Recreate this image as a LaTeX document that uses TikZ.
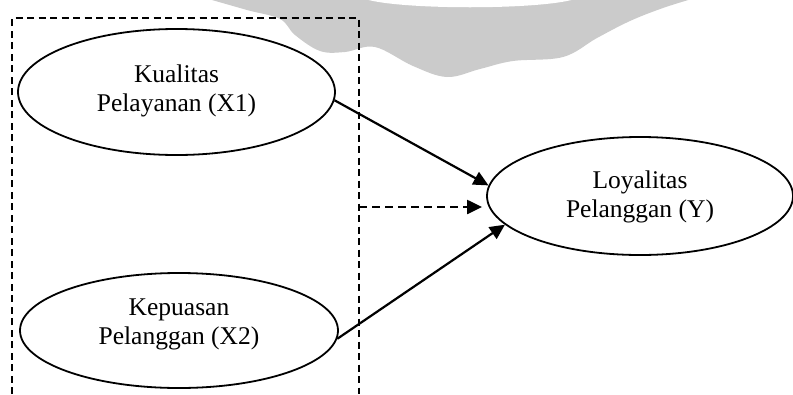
\documentclass[tikz,border=0pt]{standalone}
\usepackage{fontspec}
\setmainfont{Liberation Serif}
\usetikzlibrary{shapes.geometric,arrows.meta}
\definecolor{wmgray}{RGB}{203,203,203}
\tikzset{
  var/.style={ellipse, draw=black, fill=white, line width=1.8pt, inner sep=0pt},
  lbl/.style={align=center, font=\fontsize{25.5}{29}\selectfont, inner sep=0pt},
  arr/.style={line width=2.2pt, -{Triangle[length=15pt,width=14pt]}},
  dasharr/.style={line width=2.2pt, dash pattern=on 8pt off 5pt, -{Triangle[length=15pt,width=14pt]}},
  frame/.style={line width=1.8pt, dash pattern=on 7pt off 4.5pt}
}
\begin{document}
\begin{tikzpicture}[x=1pt,y=-1pt]
\useasboundingbox (0,0) rectangle (793,394);
% watermark
\fill[wmgray] plot[smooth, tension=0.6] coordinates {(205,-2) (247,10) (280,19) (295,35) (320,51) (345,52) (375,47) (413,66) (447,77) (480,69) (513,61) (563,57) (597,38) (630,21) (663,8) (695,-2)} -- cycle;
\fill[white] (365,-1) .. controls (400,10) and (540,10) .. (575,-1) -- cycle;
% dashed frame
\coordinate (fbl) at (12,394);
\coordinate (ftl) at (12,18);
\coordinate (ftr) at (359,18);
\coordinate (fbr) at (359,394);
\coordinate (dl) at (359,207);
\draw[frame] (fbl) -- (ftl) -- (ftr) -- (fbr);
% ellipses
\node[var, minimum width=317pt, minimum height=126pt] (k1) at (176.5,92) {};
\node[var, minimum width=318pt, minimum height=115pt] (k2) at (179,330.5) {};
\node[var, minimum width=306pt, minimum height=118pt] (ly) at (640,196) {};
% labels
\node[lbl] (t1) at (176.5,90.5) {Kualitas\\Pelayanan (X1)};
\node[lbl] (t2) at (179,324) {Kepuasan\\Pelanggan (X2)};
\node[lbl] (t3) at (640,197) {Loyalitas\\Pelanggan (Y)};
% connectors
\draw[arr] (k1.-3) -- (ly.176.5);
\draw[arr] (k2.-3.4) -- (ly.192);
\draw[dasharr, shorten >=4pt] (dl) -- (dl -| ly.west);
\end{tikzpicture}
\end{document}
